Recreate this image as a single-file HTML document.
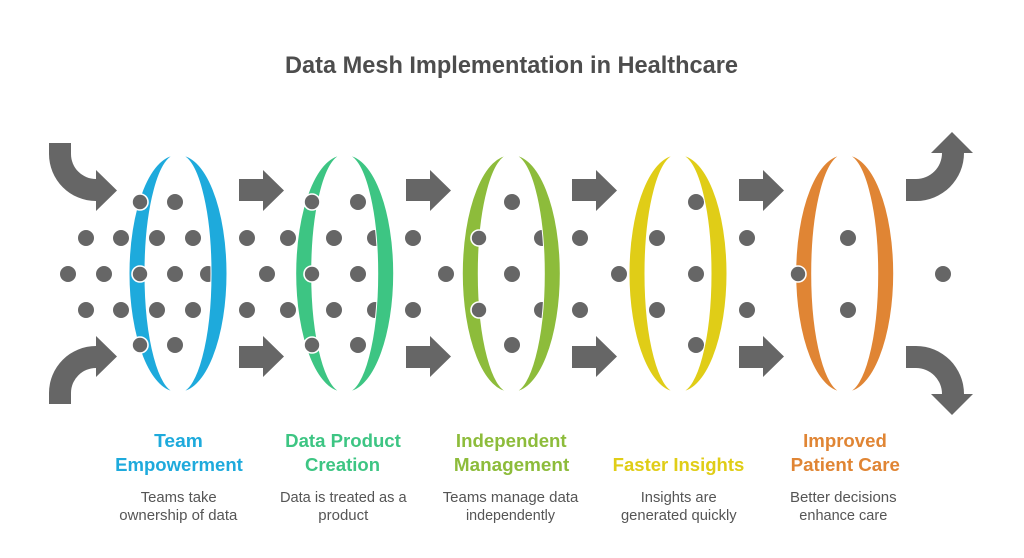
<!DOCTYPE html>
<html>
<head>
<meta charset="utf-8">
<style>
  html, body { margin: 0; padding: 0; background: #ffffff; }
  body { width: 1024px; height: 558px; overflow: hidden; }
  svg { display: block; }
  .t { font-family: "Liberation Sans", Arial, sans-serif; }
</style>
</head>
<body>
<svg width="1024" height="558" viewBox="0 0 1024 558" xmlns="http://www.w3.org/2000/svg">
  <rect width="1024" height="558" fill="#ffffff"/>

  <!-- Title -->
  <text class="t" x="511.5" y="73" text-anchor="middle" font-size="24" font-weight="bold" fill="#4d4d4d" textLength="453" lengthAdjust="spacingAndGlyphs">Data Mesh Implementation in Healthcare</text>

  <!-- Curved arrows -->
  <g fill="#666666">
    <path d="M49,143 H71 V154 A25,25 0 0 0 96,179 V170 L117,190.5 L96,211 V201 A47,47 0 0 1 49,154 Z"/>
    <path d="M49,404 H71 V393 A25,25 0 0 1 96,368 V377 L117,356.5 L96,336 V346 A47,47 0 0 0 49,393 Z"/>
    <path d="M906,179 H916 A26,26 0 0 0 942,153 H931 L952,132 L973,153 H964 A48,48 0 0 1 916,201 H906 Z"/>
    <path d="M906,368 H916 A26,26 0 0 1 942,394 H931 L952,415 L973,394 H964 A48,48 0 0 0 916,346 H906 Z"/>
  </g>

  <!-- Straight arrows -->
  <g fill="#666666">
    <path d="M239,179 H263 V170 L284,190.5 L263,211 V201 H239 Z"/>
    <path d="M239,346 H263 V336 L284,356.5 L263,377 V368 H239 Z"/>
    <path d="M406,179 H430 V170 L451,190.5 L430,211 V201 H406 Z"/>
    <path d="M406,346 H430 V336 L451,356.5 L430,377 V368 H406 Z"/>
    <path d="M572,179 H596 V170 L617,190.5 L596,211 V201 H572 Z"/>
    <path d="M572,346 H596 V336 L617,356.5 L596,377 V368 H572 Z"/>
    <path d="M739,179 H763 V170 L784,190.5 L763,211 V201 H739 Z"/>
    <path d="M739,346 H763 V336 L784,356.5 L763,377 V368 H739 Z"/>
  </g>

  <!-- Plain dots (behind rings) -->
  <g fill="#666666">
    <circle cx="86" cy="238" r="8"/><circle cx="121" cy="238" r="8"/>
    <circle cx="68" cy="274" r="8"/><circle cx="104" cy="274" r="8"/>
    <circle cx="86" cy="310" r="8"/><circle cx="121" cy="310" r="8"/>

    <circle cx="175" cy="202" r="8"/><circle cx="157" cy="238" r="8"/><circle cx="193" cy="238" r="8"/>
    <circle cx="175" cy="274" r="8"/><circle cx="208" cy="274" r="8"/>
    <circle cx="157" cy="310" r="8"/><circle cx="193" cy="310" r="8"/><circle cx="175" cy="345" r="8"/>

    <circle cx="247" cy="238" r="8"/><circle cx="288" cy="238" r="8"/>
    <circle cx="267" cy="274" r="8"/>
    <circle cx="247" cy="310" r="8"/><circle cx="288" cy="310" r="8"/>

    <circle cx="358" cy="202" r="8"/><circle cx="334" cy="238" r="8"/><circle cx="375" cy="238" r="8"/>
    <circle cx="358" cy="274" r="8"/>
    <circle cx="334" cy="310" r="8"/><circle cx="375" cy="310" r="8"/><circle cx="358" cy="345" r="8"/>

    <circle cx="413" cy="238" r="8"/><circle cx="446" cy="274" r="8"/><circle cx="413" cy="310" r="8"/>

    <circle cx="512" cy="202" r="8"/><circle cx="542" cy="238" r="8"/><circle cx="512" cy="274" r="8"/>
    <circle cx="542" cy="310" r="8"/><circle cx="512" cy="345" r="8"/>

    <circle cx="580" cy="238" r="8"/><circle cx="619" cy="274" r="8"/><circle cx="580" cy="310" r="8"/>

    <circle cx="696" cy="202" r="8"/><circle cx="657" cy="238" r="8"/><circle cx="696" cy="274" r="8"/>
    <circle cx="657" cy="310" r="8"/><circle cx="696" cy="345" r="8"/>

    <circle cx="747" cy="238" r="8"/><circle cx="747" cy="310" r="8"/>

    <circle cx="848" cy="238" r="8"/><circle cx="848" cy="310" r="8"/>

    <circle cx="943" cy="274" r="8"/>
  </g>

  <!-- Rings (two crescents each) -->
  <g stroke="#ffffff" stroke-width="1">
    <!-- blue cx=178 -->
    <path fill="#1EAADC" d="M176.5,155 A47.5,118.5 0 0 0 176.5,392 A31.5,118.5 0 0 1 176.5,155 Z"/>
    <path fill="#1EAADC" d="M179.5,155 A47.5,118.5 0 0 1 179.5,392 A31.5,118.5 0 0 0 179.5,155 Z"/>
    <!-- green cx=344.7 -->
    <path fill="#3DC583" d="M343.2,155 A47.5,118.5 0 0 0 343.2,392 A31.5,118.5 0 0 1 343.2,155 Z"/>
    <path fill="#3DC583" d="M346.2,155 A47.5,118.5 0 0 1 346.2,392 A31.5,118.5 0 0 0 346.2,155 Z"/>
    <!-- olive cx=511.3 -->
    <path fill="#8DBC3B" d="M509.8,155 A47.5,118.5 0 0 0 509.8,392 A31.5,118.5 0 0 1 509.8,155 Z"/>
    <path fill="#8DBC3B" d="M512.8,155 A47.5,118.5 0 0 1 512.8,392 A31.5,118.5 0 0 0 512.8,155 Z"/>
    <!-- yellow cx=678 -->
    <path fill="#E0CD17" d="M676.5,155 A47.5,118.5 0 0 0 676.5,392 A31.5,118.5 0 0 1 676.5,155 Z"/>
    <path fill="#E0CD17" d="M679.5,155 A47.5,118.5 0 0 1 679.5,392 A31.5,118.5 0 0 0 679.5,155 Z"/>
    <!-- orange cx=844.7 -->
    <path fill="#E08534" d="M843.2,155 A47.5,118.5 0 0 0 843.2,392 A31.5,118.5 0 0 1 843.2,155 Z"/>
    <path fill="#E08534" d="M846.2,155 A47.5,118.5 0 0 1 846.2,392 A31.5,118.5 0 0 0 846.2,155 Z"/>
  </g>

  <!-- Dots on top of ring edges (white outline) -->
  <g fill="#666666" stroke="#ffffff" stroke-width="1.6">
    <circle cx="140" cy="202" r="8"/><circle cx="140" cy="274" r="8"/><circle cx="140" cy="345" r="8"/>
    <circle cx="312" cy="202" r="8"/><circle cx="312" cy="274" r="8"/><circle cx="312" cy="345" r="8"/>
    <circle cx="479" cy="238" r="8"/><circle cx="479" cy="310" r="8"/>
    <circle cx="798" cy="274" r="8"/>
  </g>

  <!-- Labels -->
  <g class="t" font-size="18" font-weight="bold" text-anchor="middle">
    <text x="178.5" y="447" fill="#1EAADC" textLength="48.7" lengthAdjust="spacingAndGlyphs">Team</text>
    <text x="179" y="471" fill="#1EAADC" textLength="127.7" lengthAdjust="spacingAndGlyphs">Empowerment</text>

    <text x="343" y="447" fill="#3DC583" textLength="115.7" lengthAdjust="spacingAndGlyphs">Data Product</text>
    <text x="342.5" y="471" fill="#3DC583" textLength="75" lengthAdjust="spacingAndGlyphs">Creation</text>

    <text x="511.3" y="447" fill="#8DBC3B" textLength="110.7" lengthAdjust="spacingAndGlyphs">Independent</text>
    <text x="511.6" y="471" fill="#8DBC3B" textLength="115.3" lengthAdjust="spacingAndGlyphs">Management</text>

    <text x="678.5" y="471" fill="#E0CD17" textLength="131.6" lengthAdjust="spacingAndGlyphs">Faster Insights</text>

    <text x="845" y="447" fill="#E08534" textLength="83.7" lengthAdjust="spacingAndGlyphs">Improved</text>
    <text x="845.3" y="471" fill="#E08534" textLength="109.3" lengthAdjust="spacingAndGlyphs">Patient Care</text>
  </g>

  <!-- Descriptions -->
  <g class="t" font-size="15" fill="#555555" text-anchor="middle">
    <text x="178.7" y="502" textLength="76" lengthAdjust="spacingAndGlyphs">Teams take</text>
    <text x="178.3" y="520" textLength="118" lengthAdjust="spacingAndGlyphs">ownership of data</text>

    <text x="343.3" y="502" textLength="126.7" lengthAdjust="spacingAndGlyphs">Data is treated as a</text>
    <text x="343.3" y="520" textLength="50" lengthAdjust="spacingAndGlyphs">product</text>

    <text x="510.5" y="502" textLength="135.6" lengthAdjust="spacingAndGlyphs">Teams manage data</text>
    <text x="510.5" y="520" textLength="89" lengthAdjust="spacingAndGlyphs">independently</text>

    <text x="678.7" y="502" textLength="76" lengthAdjust="spacingAndGlyphs">Insights are</text>
    <text x="678.8" y="520" textLength="115.7" lengthAdjust="spacingAndGlyphs">generated quickly</text>

    <text x="843.3" y="502" textLength="106.7" lengthAdjust="spacingAndGlyphs">Better decisions</text>
    <text x="843.3" y="520" textLength="88" lengthAdjust="spacingAndGlyphs">enhance care</text>
  </g>
</svg>
</body>
</html>
